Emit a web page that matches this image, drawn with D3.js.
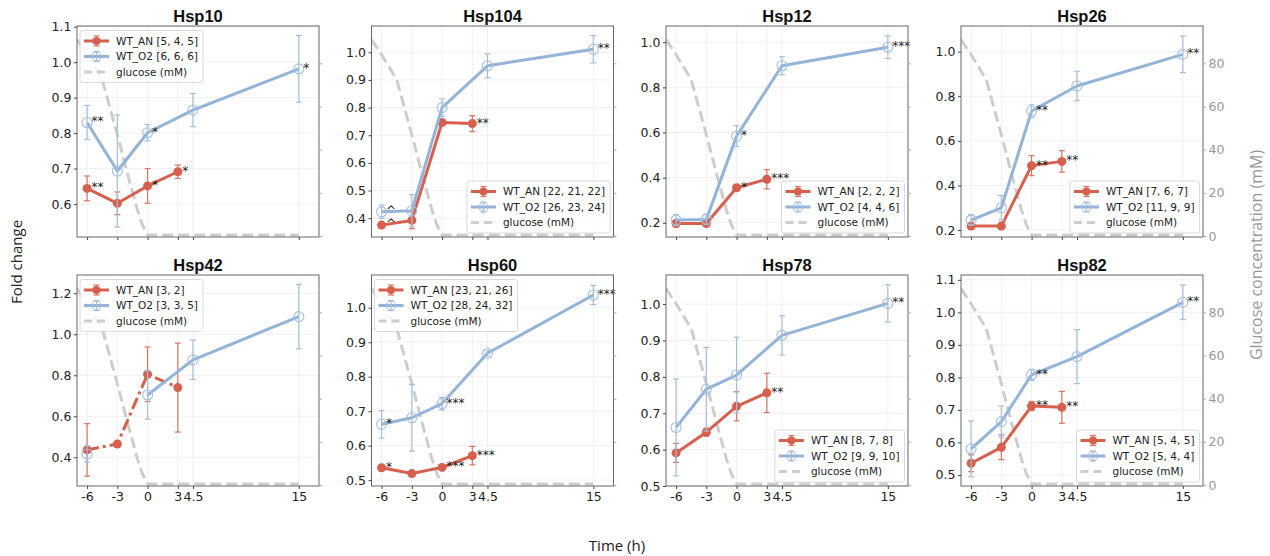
<!DOCTYPE html>
<html><head><meta charset="utf-8">
<script src="https://cdn.jsdelivr.net/npm/d3@7"></script>
<style>body{margin:0;background:#fff;} svg{display:block}</style>
</head><body><svg id="c" width="1270" height="556"></svg>
<script>
// ---------------- data ----------------
const genes = ["Hsp10","Hsp104","Hsp12","Hsp26","Hsp42","Hsp60","Hsp78","Hsp82"];
const xTicks = [-6,-3,0,3,4.5,15];
const xTickLabels = ["-6","-3","0","3","4.5","15"];
const anTime = [-6,-3,0,3];
const o2Time = [-6,-3,0,4.5,15];
const glucoseTime = [-7,-6,-4.5,-3,-2,-1,-0.5,0,3,4.5,15];
const glucoseVal  = [91,84,72.5,47,29,12,5,0.5,0.5,0.5,0.5];
const glucoseTicks = [0,20,40,60,80];

const anMean = [
  [0.644,0.602,0.651,0.691],
  [0.375,0.392,0.746,0.742],
  [0.197,0.197,0.355,0.393],
  [0.218,0.218,0.489,0.508],
  [0.436,0.465,0.805,0.740],
  [0.536,0.519,0.537,0.571],
  [0.591,0.648,0.719,0.756],
  [0.536,0.585,0.712,0.708]
];
const anErr = [
  [0.035,0.032,0.049,0.019],
  [0.006,0.030,0.008,0.029],
  [0.015,0.010,0.010,0.043],
  [0.008,0.006,0.045,0.048],
  [0.128,0.006,0.133,0.217],
  [0.007,0.005,0.006,0.027],
  [0.026,0.011,0.040,0.054],
  [0.026,0.038,0.014,0.049]
];
const o2Mean = [
  [0.830,0.693,0.801,0.865,0.981],
  [0.423,0.427,0.800,0.951,1.011],
  [0.212,0.215,0.584,0.896,0.978],
  [0.245,0.300,0.734,0.846,0.988],
  [0.416,null,0.704,0.875,1.086],
  [0.662,0.681,0.722,0.868,1.037],
  [0.661,0.766,0.805,0.914,1.002],
  [0.580,0.664,0.808,0.864,1.031]
];
const o2Err = [
  [0.048,0.158,0.023,0.047,0.094],
  [0.024,0.058,0.032,0.043,0.049],
  [0.024,0.023,0.046,0.040,0.050],
  [0.024,0.055,0.028,0.066,0.082],
  [0.040,null,0.118,0.096,0.157],
  [0.040,0.097,0.018,0.008,0.028],
  [0.133,0.115,0.104,0.054,0.051],
  [0.086,0.048,0.017,0.083,0.053]
];
const anStars = [
  ["**","","*","*"],
  ["^","","","**"],
  ["","","*","***"],
  ["","","**","**"],
  ["","","",""],
  ["*","","***","***"],
  ["","","","**"],
  ["","","**","**"]
];
const o2Stars = [
  ["**","","*","","*"],
  ["^","","","","**"],
  ["","","*","","***"],
  ["","","**","","**"],
  ["","","","",""],
  ["*","","***","","***"],
  ["","","","","**"],
  ["","","**","","**"]
];
const anN = ["[5, 4, 5]","[22, 21, 22]","[2, 2, 2]","[7, 6, 7]","[3, 2]","[23, 21, 26]","[8, 7, 8]","[5, 4, 5]"];
const o2N = ["[6, 6, 6]","[26, 23, 24]","[4, 4, 6]","[11, 9, 9]","[3, 3, 5]","[28, 24, 32]","[9, 9, 10]","[5, 4, 4]"];
const yTicks = [
  [0.6,0.7,0.8,0.9,1.0,1.1],
  [0.4,0.5,0.6,0.7,0.8,0.9,1.0],
  [0.2,0.4,0.6,0.8,1.0],
  [0.2,0.4,0.6,0.8,1.0],
  [0.4,0.6,0.8,1.0,1.2],
  [0.5,0.6,0.7,0.8,0.9,1.0],
  [0.5,0.6,0.7,0.8,0.9,1.0],
  [0.5,0.6,0.7,0.8,0.9,1.0,1.1]
];
const yDomains = [
  [0.507,1.102],[0.332,1.095],[0.137,1.072],[0.169,1.115],
  [0.26,1.289],[0.483,1.095],[0.5,1.08],[0.466,1.115]
];
const anDashed = [false,false,false,false,true,false,false,false];

// ---------------- layout / style ----------------
const legendLoc = ["ul","lr","lr","lr","ul","ul","lr","lr"];
const lefts = [77,371.5,666,961], tops = [26,275], PW = 242, PH = 211;
const RED = "#d6604d", BLUE = "#93b4d8", REDERR = "#d87462", BLUEERR = "#a3bedd", GLU = "#cdcdcd";
const FONT = "DejaVu Sans";

const svg = d3.select("#c");
const defs = svg.append("defs");

genes.forEach((gene, i) => {
  const col = i % 4, row = Math.floor(i / 4);
  const L = lefts[col], T = tops[row];
  const x = d3.scaleLinear().domain([-7,17]).range([L, L+PW]);
  const y = d3.scaleLinear().domain(yDomains[i]).range([T+PH, T]);
  const g = d3.scaleLinear().domain([-0.46,97.3]).range([T+PH, T]);
  const p = svg.append("g");

  defs.append("clipPath").attr("id","clip"+i).append("rect")
    .attr("x",L).attr("y",T).attr("width",PW).attr("height",PH);

  // grid
  p.append("g").selectAll("line.v").data(xTicks).join("line")
    .attr("x1",d=>x(d)).attr("x2",d=>x(d)).attr("y1",T).attr("y2",T+PH)
    .attr("stroke","#ececec").attr("stroke-width",0.8);
  p.append("g").selectAll("line.h").data(yTicks[i]).join("line")
    .attr("y1",d=>y(d)).attr("y2",d=>y(d)).attr("x1",L).attr("x2",L+PW)
    .attr("stroke","#ececec").attr("stroke-width",0.8);

  const plot = p.append("g").attr("clip-path","url(#clip"+i+")");

  // glucose
  const gl = d3.line().x(d=>x(d[0])).y(d=>g(d[1]));
  plot.append("path").datum(glucoseTime.map((t,k)=>[t,glucoseVal[k]]))
    .attr("d",gl).attr("fill","none").attr("stroke",GLU).attr("stroke-width",3)
    .attr("stroke-dasharray","11,5");

  function series(times, means, errs, color, errColor, filled, dashed) {
    const pts = times.map((t,k)=>({t, m:means[k], e:errs[k]}));
    const ln = d3.line().defined(d=>d.m!=null).x(d=>x(d.t)).y(d=>y(d.m));
    plot.append("path").datum(pts).attr("d",ln).attr("fill","none")
      .attr("stroke",color).attr("stroke-width",3).attr("stroke-linejoin","round")
      .attr("stroke-dasharray", dashed ? "12,4,3,4" : null);
    const valid = pts.filter(d=>d.m!=null);
    const eb = plot.append("g").attr("stroke",errColor).attr("stroke-width",1.2);
    valid.forEach(d=>{
      eb.append("line").attr("x1",x(d.t)).attr("x2",x(d.t)).attr("y1",y(d.m-d.e)).attr("y2",y(d.m+d.e));
      eb.append("line").attr("x1",x(d.t)-3).attr("x2",x(d.t)+3).attr("y1",y(d.m-d.e)).attr("y2",y(d.m-d.e));
      eb.append("line").attr("x1",x(d.t)-3).attr("x2",x(d.t)+3).attr("y1",y(d.m+d.e)).attr("y2",y(d.m+d.e));
    });
    plot.append("g").selectAll("circle").data(valid).join("circle")
      .attr("cx",d=>x(d.t)).attr("cy",d=>y(d.m)).attr("r", filled?4.5:5)
      .attr("fill", filled?color:"none").attr("stroke", filled?"none":errColor).attr("stroke-width",1.1);
  }
  series(anTime, anMean[i], anErr[i], RED, REDERR, true, anDashed[i]);
  series(o2Time, o2Mean[i], o2Err[i], BLUE, BLUEERR, false, false);

  // stars
  function stars(times, means, st) {
    p.append("g").selectAll("text").data(times.map((t,k)=>({t,m:means[k],s:st[k]})).filter(d=>d.s))
      .join("text").attr("x",d=>x(d.t)+4.5).attr("y",d=>y(d.m)+3)
      .attr("font-family",FONT).attr("font-size",12).attr("fill","#222").text(d=>d.s);
  }
  stars(anTime, anMean[i], anStars[i]);
  stars(o2Time, o2Mean[i], o2Stars[i]);

  // frame
  p.append("rect").attr("x",L).attr("y",T).attr("width",PW).attr("height",PH)
    .attr("fill","none").attr("stroke","#666").attr("stroke-width",1);

  // axes
  const ya = p.append("g").attr("transform",`translate(${L},0)`)
    .call(d3.axisLeft(y).tickValues(yTicks[i]).tickSize(3).tickPadding(2.5).tickFormat(d3.format(".1f")));
  ya.select(".domain").remove();
  ya.selectAll("text").attr("font-family",FONT).attr("font-size",12.5).attr("fill","#222");
  ya.selectAll("line").attr("stroke","#444");

  const xa = p.append("g").attr("transform",`translate(0,${T+PH})`)
    .call(d3.axisBottom(x).tickValues(xTicks).tickSize(3).tickPadding(3)
      .tickFormat((d,k)=> row===1 ? xTickLabels[k] : ""));
  xa.select(".domain").remove();
  xa.selectAll("text").attr("font-family",FONT).attr("font-size",12.5).attr("fill","#222");
  xa.selectAll("line").attr("stroke","#444");

  const ra = p.append("g").attr("transform",`translate(${L+PW},0)`)
    .call(d3.axisRight(g).tickValues(glucoseTicks).tickSize(3).tickPadding(2.5)
      .tickFormat(d=> col===3 ? d : ""));
  ra.select(".domain").remove();
  ra.selectAll("text").attr("font-family",FONT).attr("font-size",12.5).attr("fill","#999");
  ra.selectAll("line").attr("stroke","#aaa");

  // title
  p.append("text").attr("x",L+PW/2).attr("y",T-4).attr("text-anchor","middle")
    .attr("font-family","Liberation Sans").attr("font-weight","bold").attr("font-size",16.5)
    .attr("fill","#111").text(gene);

  // legend
  const labels = ["WT_AN "+anN[i], "WT_O2 "+o2N[i], "glucose (mM)"];
  const lg = p.append("g");
  const box = lg.append("rect");
  const texts = labels.map((t,k)=> lg.append("text").attr("font-family",FONT).attr("font-size",10.5)
    .attr("fill","#222").text(t));
  const tw = d3.max(texts, t=>t.node().getComputedTextLength());
  const bw = 3.5 + 25 + 7.5 + tw + 5, bh = 52;
  const bx = legendLoc[i]==="ul" ? L+3 : L+PW-3.5-bw;
  const by = legendLoc[i]==="ul" ? T+4.5 : T+PH-4-bh;
  box.attr("x",bx).attr("y",by).attr("width",bw).attr("height",bh).attr("rx",2.5)
    .attr("fill","#fff").attr("fill-opacity",0.8).attr("stroke","#d0d0d0").attr("stroke-width",0.8);
  const rowsY = [by+10.5, by+26, by+41.5];
  texts.forEach((t,k)=> t.attr("x",bx+36).attr("y",rowsY[k]).attr("dy","0.36em"));
  const hx0 = bx+4, hx1 = bx+29, hc = (hx0+hx1)/2;
  [[RED,REDERR,true],[BLUE,BLUEERR,false]].forEach(([c,ec,f],k)=>{
    const yy = rowsY[k];
    lg.append("line").attr("x1",hx0).attr("x2",hx1).attr("y1",yy).attr("y2",yy)
      .attr("stroke",c).attr("stroke-width",3);
    lg.append("line").attr("x1",hc).attr("x2",hc).attr("y1",yy-5).attr("y2",yy+5).attr("stroke",ec).attr("stroke-width",1.2);
    lg.append("line").attr("x1",hc-3).attr("x2",hc+3).attr("y1",yy-5).attr("y2",yy-5).attr("stroke",ec).attr("stroke-width",1.2);
    lg.append("line").attr("x1",hc-3).attr("x2",hc+3).attr("y1",yy+5).attr("y2",yy+5).attr("stroke",ec).attr("stroke-width",1.2);
    lg.append("circle").attr("cx",hc).attr("cy",yy).attr("r",f?4:4.5)
      .attr("fill",f?c:"none").attr("stroke",f?"none":ec).attr("stroke-width",1.1);
  });
  lg.append("line").attr("x1",hx0).attr("x2",hx1).attr("y1",rowsY[2]).attr("y2",rowsY[2])
    .attr("stroke",GLU).attr("stroke-width",3).attr("stroke-dasharray","8,5");
});

// figure labels
svg.append("text").attr("transform","translate(22,262) rotate(-90)").attr("text-anchor","middle")
  .attr("font-family","Open Sans").attr("font-size",15).attr("fill","#222").text("Fold change");
svg.append("text").attr("x",617).attr("y",551).attr("text-anchor","middle")
  .attr("font-family","Open Sans").attr("font-size",15).attr("fill","#222").text("Time (h)");
svg.append("text").attr("transform","translate(1262,255) rotate(-90)").attr("text-anchor","middle")
  .attr("font-family","Open Sans").attr("font-size",16).attr("fill","#999").text("Glucose concentration (mM)");
</script></body></html>
